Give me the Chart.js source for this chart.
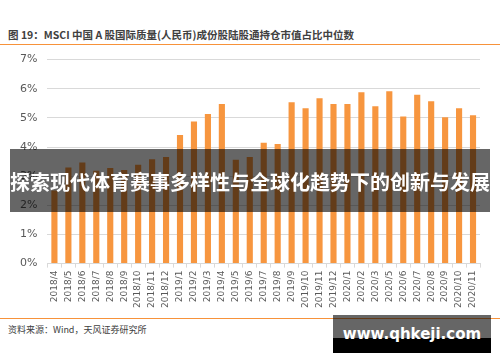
<!DOCTYPE html>
<html>
<head>
<meta charset="utf-8">
<script src="https://cdn.jsdelivr.net/npm/chart.js@4/dist/chart.umd.min.js"></script>
<style>
  body { margin: 0; width: 500px; height: 362px; background: #fff; position: relative; overflow: hidden; font-family: "Noto Sans CJK SC", "DejaVu Sans", sans-serif; }
  #title { position: absolute; left: 8px; top: 27px; font-size: 10.5px; font-weight: bold; color: #404040; white-space: nowrap; }
  .rule { position: absolute; left: 0; width: 500px; height: 1px; background: #f7923a; }
  #wrap { position: absolute; left: 0; top: 43px; width: 500px; height: 268px; }
  #source { position: absolute; left: 8px; top: 323px; font-size: 9px; color: #404040; }
  #banner { position: absolute; left: 10px; top: 149px; width: 480px; height: 63px; background: rgba(0,0,0,0.6); color: #fff; font-size: 20px; font-weight: bold; text-align: center; line-height: 66px; white-space: nowrap; }
  #site { position: absolute; left: 333px; top: 315px; width: 158px; height: 38px; background: linear-gradient(rgba(0,0,0,0.6) 0, rgba(0,0,0,0.6) 60%, #000 60%, #000 100%); color: #fff; font-size: 15px; font-weight: bold; text-align: center; line-height: 38px; font-family: "DejaVu Sans", sans-serif; }
</style>
</head>
<body>
<div id="title">图 19：MSCI 中国 A 股国际质量(人民币)成份股陆股通持仓市值占比中位数</div>
<div class="rule" style="top:44px"></div>
<div id="wrap"><canvas id="chart"></canvas></div>
<div class="rule" style="top:318px"></div>
<div id="source">资料来源：Wind，天风证券研究所</div>
<div id="banner">探索现代体育赛事多样性与全球化趋势下的创新与发展</div>
<div id="site">www.qhkeji.com</div>
<script>
// months (2020/4 is missing in the source)
const labels = ['2018/4','2018/5','2018/6','2018/7','2018/8','2018/9','2018/10','2018/11','2018/12',
  '2019/1','2019/2','2019/3','2019/4','2019/5','2019/6','2019/7','2019/8','2019/9','2019/10','2019/11','2019/12',
  '2020/1','2020/2','2020/3','2020/5','2020/6','2020/7','2020/8','2020/9','2020/10','2020/11'];
// median holding share, %
const values = [2.51, 3.30, 3.47, 3.19, 3.28, 3.21, 3.39, 3.58, 3.66,
  4.41, 4.88, 5.13, 5.48, 3.56, 3.66, 4.15, 4.10, 5.54, 5.33, 5.67, 5.48,
  5.48, 5.88, 5.40, 5.91, 5.05, 5.79, 5.57, 5.02, 5.33, 5.09];
const yTicks = [0, 1, 2, 3, 4, 5, 6, 7];

const canvas = document.getElementById('chart');
new Chart(canvas.getContext('2d'), {
  type: 'bar',
  data: {
    labels,
    datasets: [{
      data: values,
      backgroundColor: '#f7963f',
      barPercentage: 0.44,
      categoryPercentage: 1
    }]
  },
  options: {
    responsive: true,
    maintainAspectRatio: false,
    animation: false,
    layout: { padding: { left: 10, right: 20, top: 8, bottom: 0 } },
    plugins: { legend: { display: false }, tooltip: { enabled: false } },
    scales: {
      x: {
        grid: { display: true, drawOnChartArea: false, color: '#d9d9d9', tickLength: 4 },
        border: { color: '#d9d9d9' },
        ticks: { color: '#595959', font: { size: 9, family: 'DejaVu Sans' }, minRotation: 90, maxRotation: 90, autoSkip: false }
      },
      y: {
        min: 0, max: 7,
        afterBuildTicks: axis => { axis.ticks = yTicks.map(v => ({ value: v })); },
        grid: { color: '#d9d9d9', drawTicks: false },
        border: { display: false },
        ticks: { color: '#595959', padding: 10, font: { size: 11, family: 'DejaVu Sans' }, callback: v => v + '%' }
      }
    }
  }
});
</script>
</body>
</html>
